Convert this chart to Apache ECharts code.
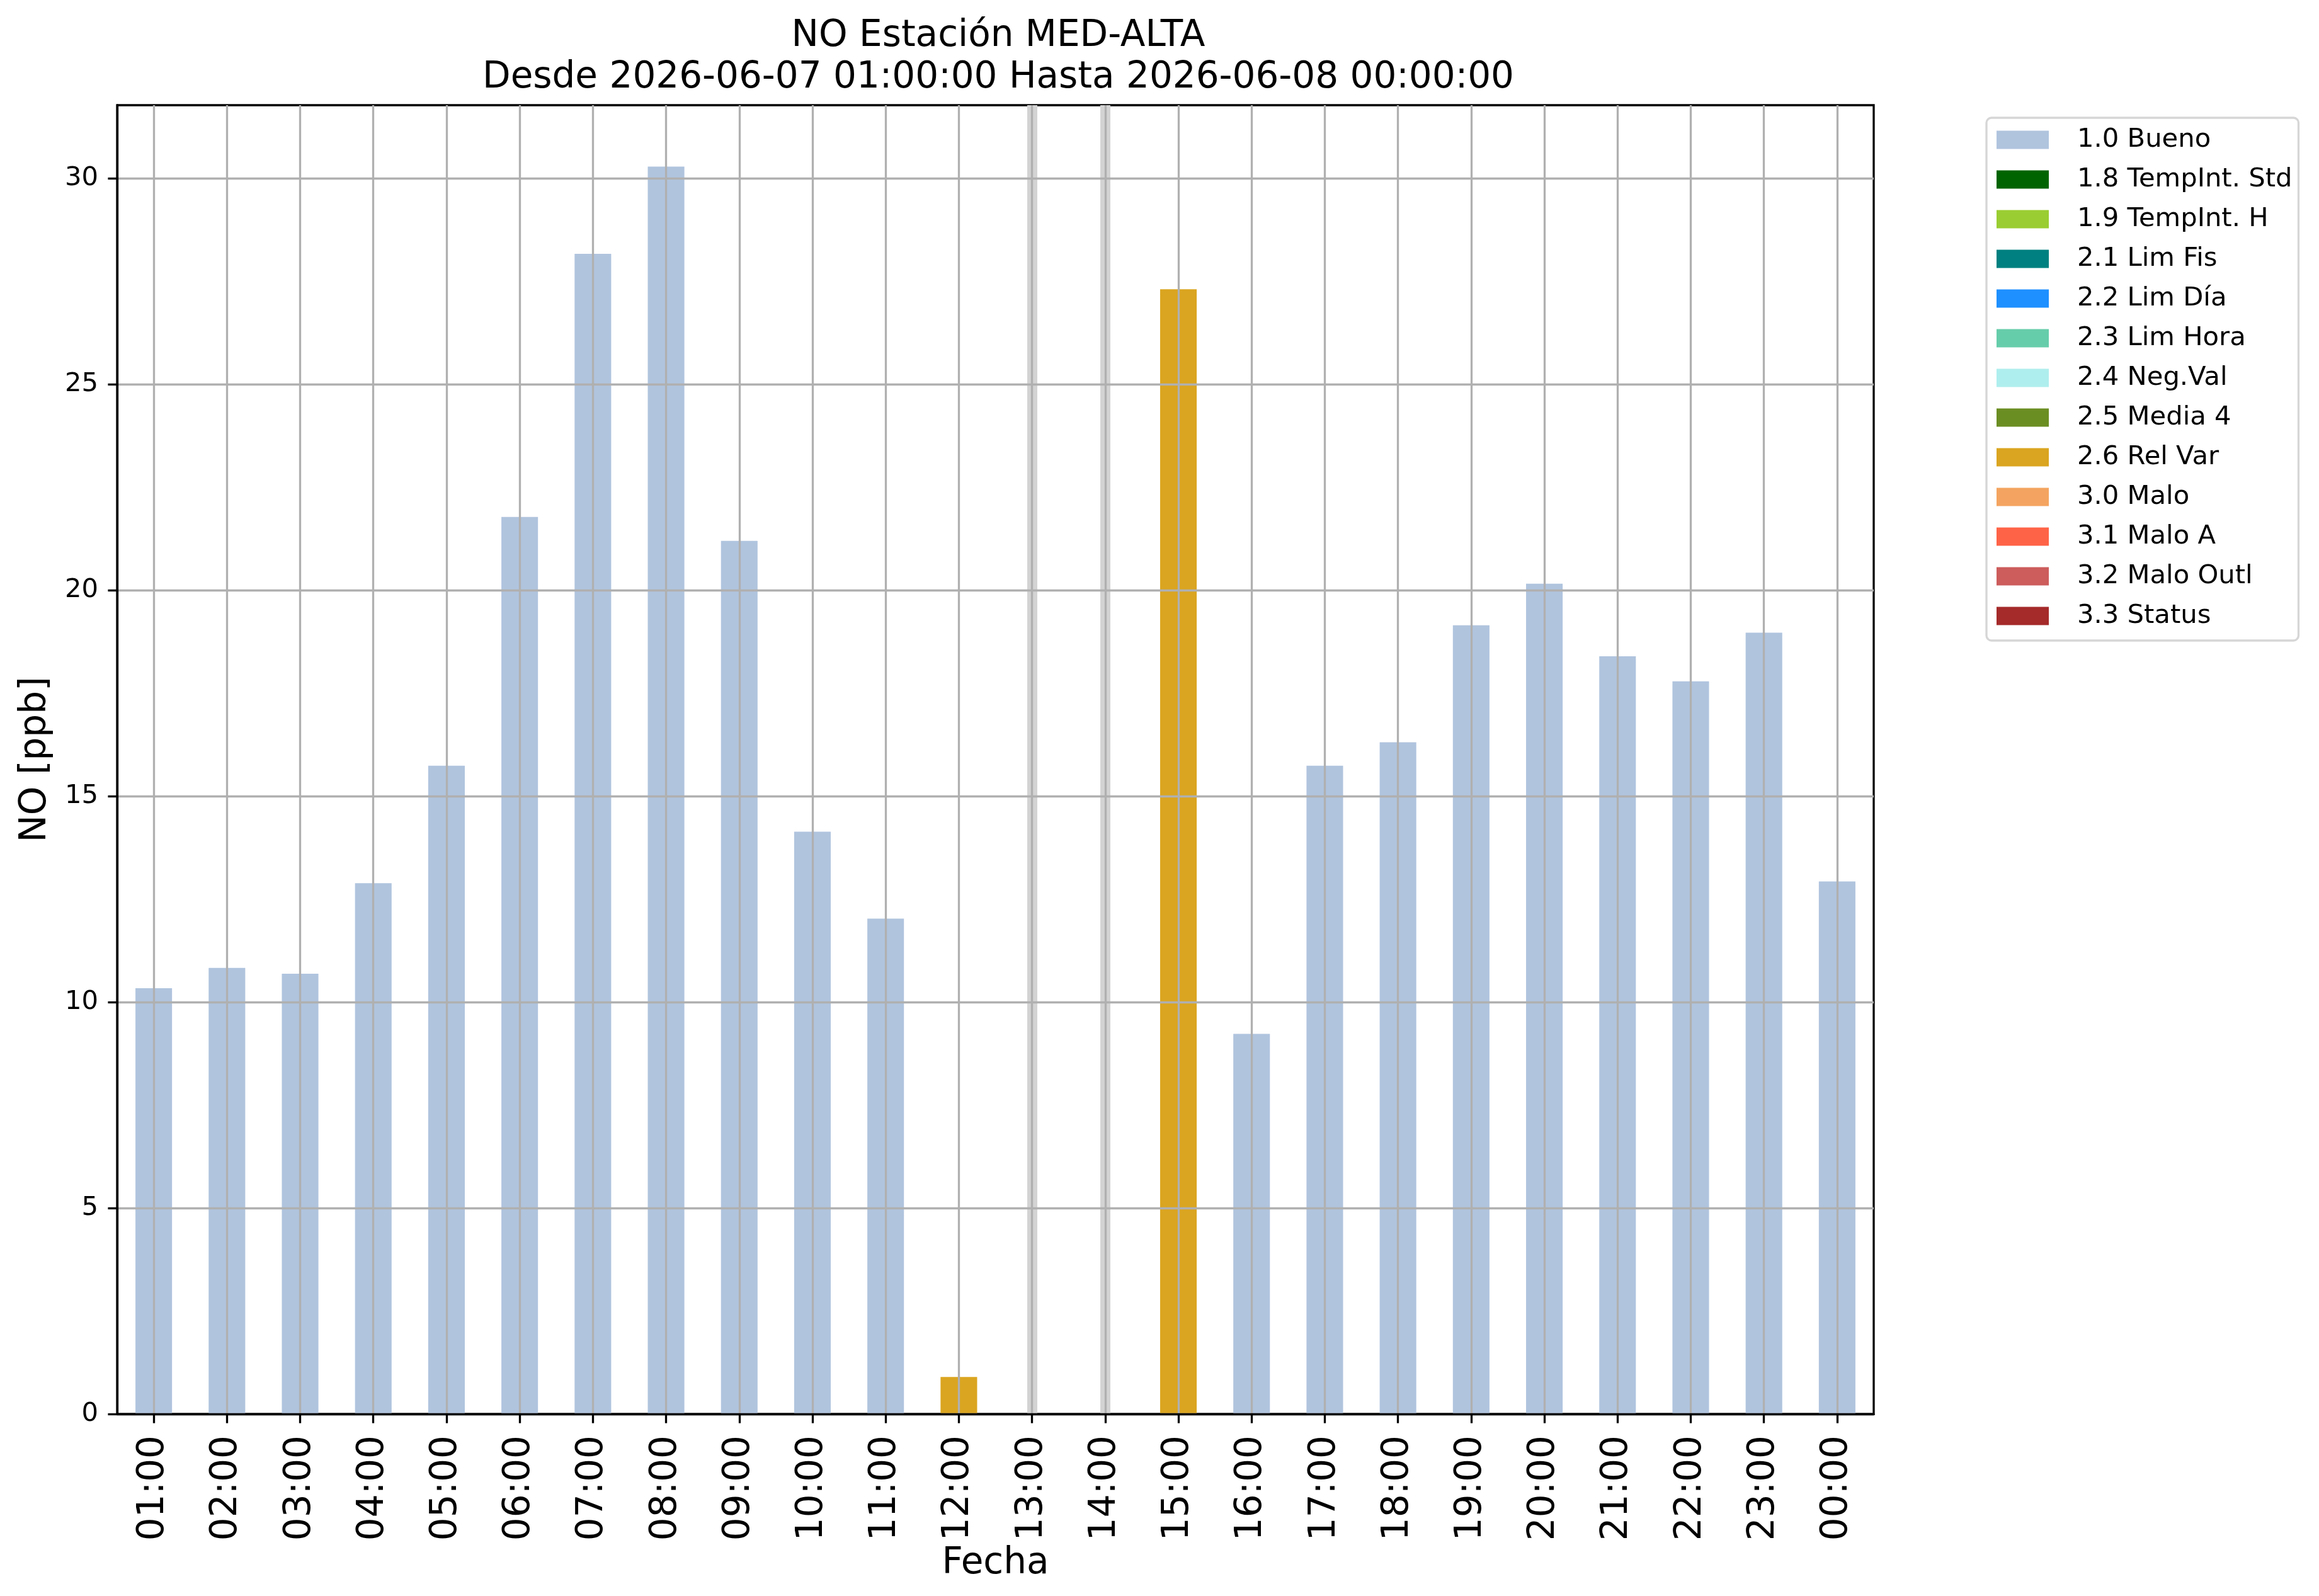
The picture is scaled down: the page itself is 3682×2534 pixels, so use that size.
<!DOCTYPE html>
<html>
<head>
<meta charset="utf-8">
<script src="https://cdn.jsdelivr.net/npm/echarts@6/dist/echarts.min.js"></script>
<style>
  html, body { margin: 0; padding: 0; background: #fff; }
  #chart { width: 3682px; height: 2534px; }
</style>
</head>
<body>
<div id="chart"></div>
<script>
// hours of the day shown on the x axis
const hours = ["01:00", "02:00", "03:00", "04:00", "05:00", "06:00", "07:00", "08:00",
  "09:00", "10:00", "11:00", "12:00", "13:00", "14:00", "15:00", "16:00",
  "17:00", "18:00", "19:00", "20:00", "21:00", "22:00", "23:00", "00:00"];

// NO [ppb] per hour, split by quality flag (null = no value with that flag)
const bueno = [10.34, 10.83, 10.69, 12.89, 15.74, 21.78, 28.17, 30.29,
  21.20, 14.14, 12.03, null, null, null, null, 9.23,
  15.74, 16.31, 19.15, 20.16, 18.40, 17.79, 18.97, 12.93];
const relVar = [null, null, null, null, null, null, null, null,
  null, null, null, 0.90, null, null, 27.31, null,
  null, null, null, null, null, null, null, null];

// hours without data
const missingHours = ["13:00", "14:00"];

// quality flags (legend) and their colours
const flagNames = ["1.0 Bueno", "1.8 TempInt. Std", "1.9 TempInt. H", "2.1 Lim Fis",
  "2.2 Lim Día", "2.3 Lim Hora", "2.4 Neg.Val", "2.5 Media 4", "2.6 Rel Var",
  "3.0 Malo", "3.1 Malo A", "3.2 Malo Outl", "3.3 Status"];
const flagColors = ["#B0C4DE", "#006400", "#9ACD32", "#008080", "#1E90FF", "#66CDAA",
  "#AFEEEE", "#6B8E23", "#DAA520", "#F4A460", "#FF6347", "#CD5C5C", "#A52A2A"];

const yTicks = [0, 5, 10, 15, 20, 25, 30];

const flagData = {
  "1.0 Bueno": bueno,
  "2.6 Rel Var": relVar,
};

const font = "DejaVu Sans";
const gridColor = "#b0b0b0";

const chart = echarts.init(document.getElementById("chart"), null, { renderer: "canvas" });

const series = flagNames.map((name, i) => {
  const s = {
    name: name,
    type: "bar",
    stack: "quality",
    barWidth: "50%",
    data: flagData[name] || [],
    itemStyle: { color: flagColors[i] },
    emphasis: { disabled: true },
    silent: true,
  };
  if (i === 0) {
    // light grey band for hours with no data, under the grid lines
    s.markLine = {
      silent: true,
      z: 1,
      symbol: ["none", "none"],
      label: { show: false },
      lineStyle: { color: "#d3d3d3", width: 16, type: "solid" },
      data: missingHours.map((h) => ({ xAxis: h })),
      animation: false,
    };
  }
  return s;
});

const option = {
  animation: false,
  backgroundColor: "#ffffff",
  title: {
    text: "NO Estación MED-ALTA\nDesde 2026-06-07 01:00:00 Hasta 2026-06-08 00:00:00",
    left: 1580,
    top: 20,
    textAlign: "center",
    textStyle: {
      fontFamily: font,
      fontSize: 58,
      fontWeight: "normal",
      color: "#000",
      lineHeight: 66,
    },
  },
  legend: {
    orient: "vertical",
    left: 3154,
    top: 187,
    data: flagNames,
    icon: "rect",
    itemWidth: 83,
    itemHeight: 29,
    itemGap: 13,
    selectedMode: false,
    backgroundColor: "#ffffff",
    borderColor: "#d6d6d6",
    borderWidth: 3.3,
    borderRadius: 8,
    padding: [10, 10, 14, 16],
    textStyle: {
      fontFamily: font,
      fontSize: 41.7,
      color: "#000",
      lineHeight: 50,
      padding: [0, 0, 0, 40],
    },
  },
  grid: {
    left: 186,
    top: 167,
    right: 707,
    bottom: 289,
    show: true,
    borderColor: "#000",
    borderWidth: 3.3,
    backgroundColor: "transparent",
  },
  xAxis: {
    type: "category",
    data: hours,
    z: 5,
    name: "Fecha",
    nameLocation: "middle",
    nameGap: 187,
    nameTextStyle: { fontFamily: font, fontSize: 58, color: "#000" },
    axisLine: { show: true, lineStyle: { color: "#000", width: 3.3 } },
    axisTick: { show: true, alignWithLabel: true, length: 14.6, lineStyle: { color: "#000", width: 3.3 } },
    axisLabel: {
      rotate: 90,
      margin: 34,
      interval: 0,
      fontFamily: font,
      fontSize: 58,
      color: "#000",
    },
    splitLine: {
      show: true,
      alignWithLabel: true,
      interval: 0,
      lineStyle: { color: gridColor, width: 3.3 },
    },
  },
  yAxis: {
    type: "value",
    min: 0,
    max: 31.78,
    interval: 5,
    z: 5,
    name: "NO [ppb]",
    nameLocation: "middle",
    nameGap: 100,
    nameTextStyle: { fontFamily: font, fontSize: 58, color: "#000" },
    axisLine: { show: true, lineStyle: { color: "#000", width: 3.3 } },
    axisTick: {
      show: true,
      length: 14.6,
      lineStyle: { color: "#000", width: 3.3 },
      customValues: yTicks,
    },
    axisLabel: {
      margin: 30,
      fontFamily: font,
      fontSize: 41.7,
      color: "#000",
      customValues: yTicks,
    },
    splitLine: { show: true, lineStyle: { color: gridColor, width: 3.3 } },
  },
  series: series,
};

chart.setOption(option);
</script>
</body>
</html>
